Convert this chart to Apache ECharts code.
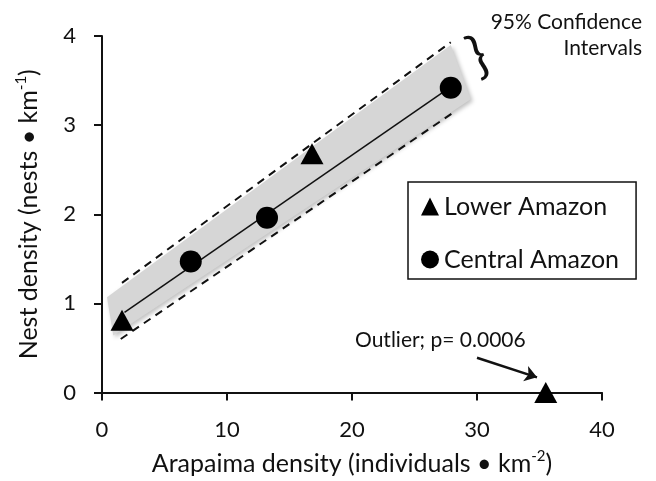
<!DOCTYPE html>
<html>
<head>
<meta charset="utf-8">
<script src="https://cdn.jsdelivr.net/npm/echarts@6/dist/echarts.min.js"></script>
<style>
html, body { margin: 0; padding: 0; background: #fff; }
#chart { width: 656px; height: 481px; }
</style>
</head>
<body>
<div id="chart"></div>
<script>
// Lower Amazon (triangles), last one is the outlier
var lowerX = [1.6, 16.8, 35.5];
var lowerY = [0.81, 2.68, 0];
// Central Amazon (circles)
var centralX = [7.1, 13.2, 27.9];
var centralY = [1.47, 1.96, 3.42];
// regression line end points
var fitX = [1.8, 27.9];
var fitY = [0.9, 3.43];
// 95% confidence lines (dashed)
var ciUpperX = [1.6, 27.9];
var ciUpperY = [1.23, 3.93];
var ciLowerX = [1.5, 28.3];
var ciLowerY = [0.6, 3.16];
// grey band corners
var bandX = [0.4, 27.9, 29.5, 0.9];
var bandY = [1.07, 3.9, 3.29, 0.64];
// arrow to the outlier
var arrowX = [30.0, 34.8];
var arrowY = [0.39, 0.17];

function pts(xs, ys) {
	return xs.map(function (x, i) { return [x, ys[i]]; });
}

var chart = echarts.init(document.getElementById('chart'));
var font = 'Lato';

var option = {
	animation: false,
	textStyle: { fontFamily: font, color: '#111' },
	grid: { left: 102, right: 54, top: 36, bottom: 85 },
	legend: {
		orient: 'vertical',
		left: 408,
		top: 182,
		borderColor: '#111',
		borderWidth: 1.5,
		padding: [12, 17, 7, 13],
		itemGap: 28,
		itemWidth: 18,
		itemHeight: 18,
		textStyle: { fontSize: 25, color: '#111', fontFamily: font },
		data: [
			{ name: 'Lower Amazon', icon: 'triangle' },
			{ name: 'Central Amazon', icon: 'circle' }
		]
	},
	xAxis: {
		type: 'value',
		min: 0, max: 40, interval: 10,
		name: '{t|Arapaima density (individuals • km}{s|-2}{t|)}',
		nameLocation: 'middle',
		nameGap: 56,
		nameTextStyle: {
			rich: {
				t: { fontSize: 25, fontFamily: font, color: '#111', lineHeight: 30 },
				s: { fontSize: 15, fontFamily: font, color: '#111', verticalAlign: 'top', lineHeight: 30 }
			}
		},
		splitLine: { show: false },
		axisLine: { lineStyle: { color: '#111', width: 2 } },
		axisTick: { length: 8, lineStyle: { color: '#111', width: 2 } },
		axisLabel: { fontSize: 22, color: '#111', margin: 26, fontFamily: font }
	},
	yAxis: {
		type: 'value',
		min: 0, max: 4, interval: 1,
		name: '{t|Nest density (nests • km}{s|-1}{t|)}',
		nameLocation: 'middle',
		nameGap: 58,
		nameTextStyle: {
			rich: {
				t: { fontSize: 25, fontFamily: font, color: '#111', lineHeight: 30 },
				s: { fontSize: 15, fontFamily: font, color: '#111', verticalAlign: 'top', lineHeight: 30 }
			}
		},
		splitLine: { show: false },
		axisLine: { show: true, lineStyle: { color: '#111', width: 2 } },
		axisTick: { show: true, length: 8, lineStyle: { color: '#111', width: 2 } },
		axisLabel: { fontSize: 22, color: '#111', margin: 26, fontFamily: font }
	},
	graphic: [
		{
			type: 'text', x: 642, y: 9,
			style: {
				text: '95% Confidence\nIntervals', align: 'right', verticalAlign: 'top',
				fontSize: 21, lineHeight: 26, fontFamily: font, fill: '#111'
			}
		},
		{
			type: 'text', x: 478, y: 56, rotation: 0.4,
			style: {
				text: '}', align: 'center', verticalAlign: 'middle',
				fontSize: 52, fontFamily: font, fill: '#111'
			}
		},
		{
			type: 'text', x: 355, y: 340,
			style: {
				text: 'Outlier; p= 0.0006', align: 'left', verticalAlign: 'middle',
				fontSize: 21, fontFamily: font, fill: '#111'
			}
		}
	],
	series: [
		{
			type: 'custom',
			silent: true,
			z: 1,
			data: [[0, 0]],
			renderItem: function (params, api) {
				var points = bandX.map(function (x, i) { return api.coord([x, bandY[i]]); });
				return {
					type: 'polygon',
					shape: { points: points },
					style: {
						fill: '#d6d6d6',
						shadowBlur: 4,
						shadowColor: 'rgba(0,0,0,0.25)',
						shadowOffsetX: 2,
						shadowOffsetY: 2
					}
				};
			}
		},
		{
			type: 'line', silent: true, z: 2, symbol: 'none',
			data: pts(ciUpperX, ciUpperY),
			lineStyle: { color: '#111', width: 2, type: [8, 6] }
		},
		{
			type: 'line', silent: true, z: 2, symbol: 'none',
			data: pts(ciLowerX, ciLowerY),
			lineStyle: { color: '#111', width: 2, type: [8, 6] }
		},
		{
			type: 'line', silent: true, z: 3, symbol: 'none',
			data: pts(fitX, fitY),
			lineStyle: { color: '#111', width: 1.5 },
			markLine: {
				silent: true,
				symbol: ['none', 'arrow'],
				symbolSize: 12,
				label: { show: false },
				lineStyle: { color: '#111', width: 2.5, type: 'solid' },
				data: [[
					{ coord: [arrowX[0], arrowY[0]] },
					{ coord: [arrowX[1], arrowY[1]] }
				]]
			}
		},
		{
			name: 'Lower Amazon',
			type: 'scatter', z: 5,
			symbol: 'triangle',
			symbolSize: [23, 21],
			itemStyle: { color: '#000', opacity: 1 },
			data: pts(lowerX, lowerY)
		},
		{
			name: 'Central Amazon',
			type: 'scatter', z: 5,
			symbol: 'circle',
			symbolSize: 22,
			itemStyle: { color: '#000', opacity: 1 },
			data: pts(centralX, centralY)
		}
	]
};

chart.setOption(option);
</script>
</body>
</html>
